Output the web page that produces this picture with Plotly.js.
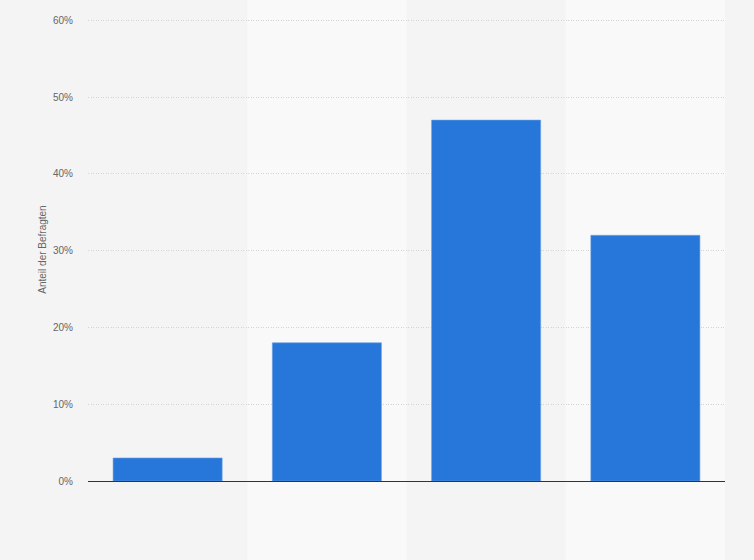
<!DOCTYPE html>
<html>
<head>
<meta charset="utf-8">
<script src="https://cdn.plot.ly/plotly-3.0.1.min.js"></script>
<style>html,body{margin:0;padding:0;background:#f4f4f4;}#chart{width:754px;height:560px;}</style>
</head>
<body>
<div id="chart"></div>
<script>
const categories = ["A", "B", "C", "D"];
const values = [3, 18, 47, 32];
const yTicks = [0, 10, 20, 30, 40, 50, 60];
const yTickLabels = ["0%", "10%", "20%", "30%", "40%", "50%", "60%"];
const yTitle = "Anteil der Befragten";

const n = categories.length;
const shapes = [];
for (let i = 1; i < n; i += 2) {
  shapes.push({type: 'rect', xref: 'paper', yref: 'paper', x0: i / n, x1: (i + 1) / n, y0: -0.3, y1: 1.1,
    fillcolor: '#f9f9f9', line: {width: 0}, layer: 'below'});
}

Plotly.newPlot('chart', [{
  type: 'bar',
  x: categories,
  y: values,
  width: 0.685,
  marker: {color: '#2776d9', line: {color: '#6a9fe3', width: 0.6}},
  hoverinfo: 'none'
}], {
  width: 754, height: 560,
  paper_bgcolor: '#f4f4f4',
  plot_bgcolor: 'rgba(0,0,0,0)',
  margin: {l: 88, r: 29, t: 18, b: 79},
  showlegend: false,
  shapes: shapes,
  font: {family: 'Liberation Sans, Arial, sans-serif', color: '#666', size: 10},
  xaxis: {range: [-0.5, n - 0.5], showticklabels: false, showgrid: false, zeroline: false,
    showline: true, linecolor: '#333', linewidth: 1.2, ticks: ''},
  yaxis: {range: [0, 60.3], tickvals: yTicks, ticktext: yTickLabels, showgrid: true,
    gridcolor: '#d4d4d4', griddash: '1px,1.5px', gridwidth: 1, zeroline: false, showline: false,
    ticks: '', ticklabelstandoff: 14, tickfont: {size: 10, color: '#666'},
    title: {text: yTitle, font: {size: 10, color: '#666'}, standoff: 4}}
}, {displayModeBar: false, staticPlot: true});
</script>
</body>
</html>
